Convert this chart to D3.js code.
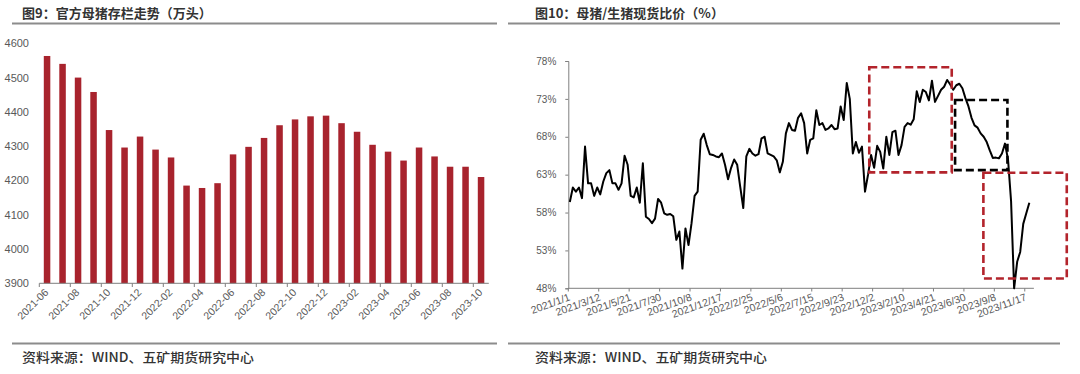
<!DOCTYPE html>
<html><head><meta charset="utf-8">
<script src="https://cdn.jsdelivr.net/npm/d3@7"></script>
<style>
html,body{margin:0;padding:0;background:#fff;}
svg{display:block;}
</style></head>
<body>
<script>
// ---------- Chart 1 data ----------
const months = ["2021-06","2021-07","2021-08","2021-09","2021-10","2021-11","2021-12",
"2022-01","2022-02","2022-03","2022-04","2022-05","2022-06","2022-07","2022-08","2022-09",
"2022-10","2022-11","2022-12","2023-01","2023-02","2023-03","2023-04","2023-05","2023-06",
"2023-07","2023-08","2023-09","2023-10"];
const sowStock = [4563,4540,4500,4458,4347,4296,4328,4290,4267,4185,4178,4192,4276,4298,4324,4361,
4378,4387,4389,4367,4342,4304,4284,4258,4296,4270,4240,4240,4210];
const barYTicks = [3900,4000,4100,4200,4300,4400,4500,4600];

// ---------- Chart 2 data (weekly, from 2021/1/1) ----------
const ratio = [59.4,61.3,60.75,61.3,59.9,66.7,61.85,61.85,60.2,61.3,
60.4,62.1,63.2,63.6,61.85,61.85,61.0,61.85,65.5,64.3,
60.2,60.0,61.3,59.3,64.5,57.45,57.15,56.6,57.2,59.8,
59.3,57.9,57.7,57.8,57.5,54.4,55.5,50.6,55.9,53.7,
56.6,60.2,60.75,67.6,68.4,66.9,65.7,65.6,65.4,65.3,
65.8,64.3,62.4,63.9,65.0,64.3,61.4,58.6,65.4,66.4,
65.8,65.5,65.7,67.8,68.0,65.8,65.6,65.4,64.9,63.3,
64.7,68.45,69.8,68.9,68.8,70.5,71.1,69.8,65.8,67.6,
67.8,71.5,69.55,69.8,68.9,69.1,69.55,69.0,69.1,72.0,
70.2,75.1,73.0,65.8,67.3,65.9,66.7,60.75,63.0,65.6,
63.9,66.8,66.0,63.8,68.0,65.6,68.6,68.8,65.6,66.9,
69.3,69.8,69.6,70.3,74.0,72.6,74.2,73.9,72.8,75.4,
72.6,73.4,74.2,74.6,75.5,74.9,74.2,74.8,75.0,74.4,
73.1,72.0,70.5,69.5,69.2,68.45,68.0,67.3,66.2,65.2,
65.25,65.15,65.8,67.1,65.0,59.5,48.0,51.5,52.8,56.5,
57.9,59.3];
const weekCount = 153;
const dateTickLabels = ["2021/1/1","2021/3/12","2021/5/21","2021/7/30","2021/10/8","2021/12/17",
"2022/2/25","2022/5/6","2022/7/15","2022/9/23","2022/12/2","2023/2/10","2023/4/21","2023/6/30",
"2023/9/8","2023/11/17"];
const dateTickStep = 10;
const ratioYTicks = [48,53,58,63,68,73,78];
// annotation boxes in data units: [week from, week to], [% top, % bottom]
const boxWeeks  = [[98.9,126.0],[127.1,144.3],[136.4,163.8]];
const boxValues = [[77.17,63.3],[72.85,63.6],[63.26,49.3]];
const boxKinds  = ["red","black","red"];

const titles = ["图9：官方母猪存栏走势（万头）","图10：母猪/生猪现货比价（%）"];
const source = "资料来源：WIND、五矿期货研究中心";

// ---------- drawing ----------
const W=1080,H=374;
const svg=d3.select("body").append("svg").attr("width",W).attr("height",H);
svg.append("rect").attr("width",W).attr("height",H).attr("fill","#fff");

const cjk='"Noto Sans CJK SC","Noto Sans",sans-serif';
const num='"Liberation Sans",Arial,sans-serif';
const grey="#595959";

// titles and rules
[[22,12,497],[535,508,1060]].forEach((p,i)=>{
  svg.append("text").attr("x",p[0]).attr("y",18).text(titles[i])
    .attr("font-family",cjk).attr("font-size",13).attr("font-weight",600).attr("fill","#333");
  svg.append("line").attr("x1",p[1]).attr("x2",p[2]).attr("y1",23.5).attr("y2",23.5)
    .attr("stroke","#8c8c8c").attr("stroke-width",2);
  svg.append("line").attr("x1",p[1]).attr("x2",p[2]).attr("y1",343.5).attr("y2",343.5)
    .attr("stroke","#8c8c8c").attr("stroke-width",2);
  svg.append("text").attr("x",p[0]).attr("y",362).text(source)
    .attr("font-family",cjk).attr("font-size",13).attr("font-weight",500).attr("fill","#333")
    .attr("textLength",232).attr("lengthAdjust","spacingAndGlyphs");
});

// ---------- Bar chart ----------
const bx=d3.scaleBand().domain(months).range([39.3,488.8]).paddingInner(0.58).paddingOuter(0.29);
const by=d3.scaleLinear().domain([3900,4600]).range([283.3,43.3]);
const g1=svg.append("g");
g1.selectAll("rect.bar").data(sowStock).join("rect").attr("class","bar")
  .attr("x",(d,i)=>bx(months[i])).attr("width",bx.bandwidth())
  .attr("y",d=>by(d)).attr("height",d=>by(3900)-by(d)).attr("fill","#A8232D");
const yAx1=d3.axisLeft(by).tickValues(barYTicks).tickSize(0).tickPadding(0).tickFormat(d3.format("d"));
const ya1=g1.append("g").attr("transform","translate(29,0)").call(yAx1);
ya1.select(".domain").remove();
ya1.selectAll("text").attr("font-family",num).attr("font-size",11).attr("fill",grey);
const step1=bx.step();
const bx0=39.3;
const xa1=g1.append("g");
xa1.append("line").attr("x1",39.3).attr("x2",488.8).attr("y1",283.3).attr("y2",283.3).attr("stroke","#7f7f7f").attr("stroke-width",1);
months.forEach((m,i)=>{
  if(i%2!==0) return;
  const tx=bx0+i*step1;
  xa1.append("line").attr("x1",tx).attr("x2",tx).attr("y1",283.3).attr("y2",287).attr("stroke","#7f7f7f");
  const cx=bx(m)+bx.bandwidth()/2;
  xa1.append("text").attr("transform",`translate(${cx+2},${293}) rotate(-45)`)
    .attr("text-anchor","end").attr("font-family",num).attr("font-size",10.5).attr("fill",grey).text(m);
});

// ---------- Line chart ----------
const lx=d3.scaleLinear().domain([0,weekCount]).range([568.3,1033.9]);
const ly=d3.scaleLinear().domain([48,78]).range([288.3,61]);
const g2=svg.append("g");
const yAx2=d3.axisLeft(ly).tickValues(ratioYTicks).tickSize(3).tickPadding(9).tickFormat(d=>d+"%");
const ya2=g2.append("g").attr("transform","translate(568.3,0)").call(yAx2);
ya2.select(".domain").attr("stroke","#7f7f7f");
ya2.selectAll(".tick line").attr("stroke","#7f7f7f");
ya2.selectAll("text").attr("font-family",num).attr("font-size",10).attr("fill",grey);
const xa2=g2.append("g");
xa2.append("line").attr("x1",lx(0)).attr("x2",lx(weekCount)).attr("y1",288.3).attr("y2",288.3).attr("stroke","#7f7f7f");
dateTickLabels.forEach((t,k)=>{
  const idx=k*dateTickStep;
  const tx=lx(idx);
  xa2.append("line").attr("x1",tx).attr("x2",tx).attr("y1",288.3).attr("y2",291.5).attr("stroke","#7f7f7f");
  xa2.append("text").attr("transform",`translate(${lx(idx+0.5)+1},${300}) rotate(-20)`)
    .attr("text-anchor","end").attr("font-family",num).attr("font-size",10.5).attr("fill",grey).text(t);
});
const line=d3.line().x((d,i)=>lx(i+0.5)).y(d=>ly(d));
g2.append("path").datum(ratio).attr("d",line).attr("fill","none").attr("stroke","#000")
  .attr("stroke-width",2).attr("stroke-linejoin","round");
boxWeeks.forEach((b,i)=>{
  const v=boxValues[i];
  g2.append("rect").attr("x",lx(b[0])).attr("width",lx(b[1])-lx(b[0]))
    .attr("y",ly(v[0])).attr("height",ly(v[1])-ly(v[0]))
    .attr("fill","none").attr("stroke",boxKinds[i]==="red"?"#B3242C":"#000")
    .attr("stroke-width",2.6).attr("stroke-dasharray","8,4");
});
</script>
</body></html>
